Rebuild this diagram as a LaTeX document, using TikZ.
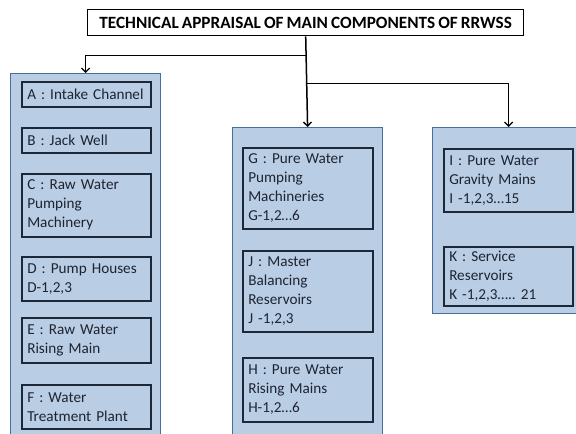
\documentclass[tikz,border=0pt]{standalone}
\usepackage{fontspec}
\setmainfont[WordSpace=0.8]{Carlito}
\usetikzlibrary{arrows.meta,calc}
\frenchspacing
\definecolor{panelfill}{HTML}{B9CDE5}
\definecolor{panelline}{HTML}{4A6E9C}
\definecolor{itemline}{HTML}{1C2838}
\definecolor{itemtext}{HTML}{1E2430}
\tikzset{
  panel/.style={draw=panelline, line width=1.2pt, fill=panelfill, anchor=north west, inner sep=0pt},
  item/.style={draw=itemline, line width=1.5pt, anchor=north west, align=left,
    inner xsep=5.5pt, inner ysep=0pt, text=itemtext,
    font=\frenchspacing\fontsize{15.2}{19}\selectfont},
  titlebox/.style={draw=black, line width=1.4pt, fill=white, anchor=north west,
    minimum width=436pt, minimum height=26pt, inner sep=0pt,
    font=\bfseries\fontsize{17.2}{19}\selectfont},
  conn/.style={draw=black, line width=1.5pt, -{Straight Barb[length=4pt,width=8pt,line width=1.3pt]}}
}
\begin{document}
\begin{tikzpicture}[x=1pt,y=-1pt]
\useasboundingbox (0,0) rectangle (576,434);
\clip (0,0) rectangle (576,434);

% title
\node[titlebox] (title) at (87,9) {TECHNICAL APPRAISAL OF MAIN COMPONENTS OF RRWSS};

% three panels
\node[panel, minimum width=150pt, minimum height=370pt] (panelL) at (10,73) {};
\node[panel, minimum width=150pt, minimum height=320pt] (panelM) at (232,127) {};
\node[panel, minimum width=152pt, minimum height=186pt] (panelR) at (432,127) {};

% left panel items
\node[item, text width=118pt, minimum height=25pt] (A) at (21,81) {A : Intake Channel};
\node[item, text width=118pt, minimum height=25pt] (B) at (21,127) {B : Jack Well};
\node[item, text width=118pt, minimum height=63pt] (C) at (21,173) {C : Raw Water\\Pumping\\Machinery};
\node[item, text width=118pt, minimum height=44pt] (D) at (21,256) {D : Pump Houses\\D-1,2,3};
\node[item, text width=118pt, minimum height=45pt] (E) at (21,317) {E : Raw Water\\Rising Main};
\node[item, text width=118pt, minimum height=44pt] (F) at (21,384) {F : Water\\Treatment Plant};

% middle panel items
\node[item, text width=119pt, minimum height=81pt] (G) at (242,147) {G : Pure Water\\Pumping\\Machineries\\G-1,2\ldots6};
\node[item, text width=119pt, minimum height=81pt] (J) at (242,250) {J : Master\\Balancing\\Reservoirs\\J -1,2,3};
\node[item, text width=119pt, minimum height=64pt] (H) at (242,357) {H : Pure Water\\Rising Mains\\H-1,2\ldots6};

% right panel items
\node[item, text width=118pt, minimum height=63pt] (I) at (443,148) {I : Pure Water\\Gravity Mains\\I -1,2,3\ldots15};
\node[item, text width=118pt, minimum height=59pt] (K) at (443,246) {K : Service\\Reservoirs\\K -1,2,3\ldots.. 21};

% connectors
\coordinate (jL) at ($(title.south)+(0,19)$);
\coordinate (jR) at ($(title.south)+(0,47)$);
\draw[conn] (title.south) -- (panelM.north);
\draw[conn] (jL) -| (panelL.north);
\draw[conn] (jR) -| (panelR.north);
\end{tikzpicture}
\end{document}
